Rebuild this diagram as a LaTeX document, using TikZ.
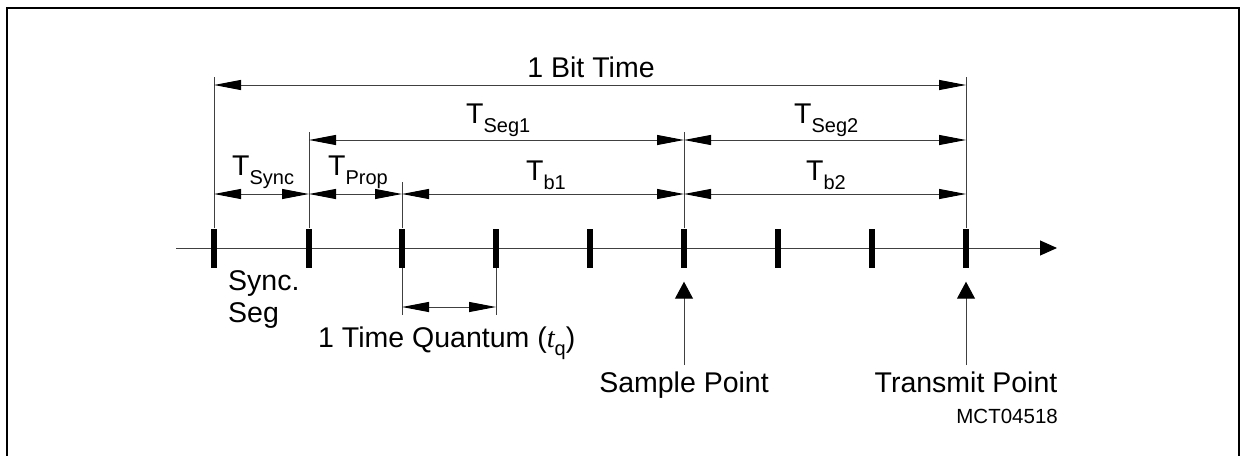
\documentclass[tikz,border=0pt]{standalone}
\usepackage{fontspec}
\setmainfont{Liberation Sans}
\newfontfamily\tqfont{Liberation Serif}
\usetikzlibrary{arrows.meta}
\newcommand{\Tsub}[1]{T\raisebox{-9.3pt}{\fontsize{20}{20}\selectfont #1}}
\begin{document}
\begin{tikzpicture}[x=1pt,y=-1pt,
  thin line/.style={line width=1pt, black!75},
  dim/.style={thin line, {Triangle[length=27pt,width=10pt,color=black]}-{Triangle[length=27pt,width=10pt,color=black]}},
  ext/.style={thin line},
  axisline/.style={thin line, -{Triangle[length=17pt,width=15pt,color=black]}},
  tickmark/.style={rectangle, fill=black, draw=none, minimum width=6pt, minimum height=39pt, inner sep=0pt},
  ptarrow/.style={thin line, -{Triangle[length=17pt,width=18pt,color=black]}, shorten <=6pt, shorten >=14pt},
  lbl/.style={inner sep=0pt, font=\fontsize{28.5}{32}\selectfont},
  small/.style={inner sep=0pt, font=\fontsize{20.5}{22}\selectfont},
]
\useasboundingbox (0,0) rectangle (1241,455);
% frame
\draw[line width=2pt] (7,470) -- (7,7.5) -- (1239.3,7.5) -- (1239.3,470);

% axis
\coordinate (axs) at (176,248);
\coordinate (axe) at (1057,248);
\draw[axisline] (axs) -- (axe);

% ticks
\foreach \i/\x in {0/214,1/309,2/402,3/496,4/590,5/684,6/778,7/872,8/966}
  \node[tickmark] (k\i) at (\x,248) {};

% extension lines
\draw[ext] (k0.north) -- (k0 |- 0,77);
\draw[ext] (k1.north) -- (k1 |- 0,132);
\draw[ext] (k2.north) -- (k2 |- 0,182);
\draw[ext] (k5.north) -- (k5 |- 0,132);
\draw[ext] (k8.north) -- (k8 |- 0,77);
\draw[ext] (k2.south) -- (k2 |- 0,315);
\draw[ext] (k3.south) -- (k3 |- 0,315);

% dimension lines
\draw[dim] (k0 |- 0,85) -- (k8 |- 0,85);
\draw[dim] (k1 |- 0,140) -- (k5 |- 0,140);
\draw[dim] (k5 |- 0,140) -- (k8 |- 0,140);
\draw[dim] (k0 |- 0,194) -- (k1 |- 0,194);
\draw[dim] (k1 |- 0,194) -- (k2 |- 0,194);
\draw[dim] (k2 |- 0,194) -- (k5 |- 0,194);
\draw[dim] (k5 |- 0,194) -- (k8 |- 0,194);
\draw[dim] (k2 |- 0,307) -- (k3 |- 0,307);

% labels
\node[lbl, anchor=base] (bit) at (591,77) {1 Bit Time};
\node[lbl, anchor=base west] (seg1) at (466,123) {\Tsub{Seg1}};
\node[lbl, anchor=base west] (seg2) at (794,123) {\Tsub{Seg2}};
\node[lbl, anchor=base west] (tsync) at (232,175) {\Tsub{Sync}};
\node[lbl, anchor=base west] (tprop) at (328,175) {\Tsub{Prop}};
\node[lbl, anchor=base west] (tb1) at (526,180) {\Tsub{b1}};
\node[lbl, anchor=base west] (tb2) at (806,180) {\Tsub{b2}};
\node[lbl, anchor=base west] (sync1) at (228,290) {Sync.};
\node[lbl, anchor=base west] (sync2) at (228,322) {Seg};
\node[lbl, anchor=base west] (tq) at (318,347) {1 Time Quantum ({\tqfont\itshape t}\raisebox{-8pt}{\fontsize{20}{20}\selectfont q})};
\node[lbl, anchor=base] (sp) at (684,392) {Sample Point};
\node[lbl, anchor=base] (tp) at (966,392) {Transmit Point};
\node[small, anchor=base east] (code) at (1058,423) {MCT04518};

% point arrows
\draw[ptarrow] (sp.north) -- (k5.south);
\draw[ptarrow] (tp.north) -- (k8.south);
\end{tikzpicture}
\end{document}
